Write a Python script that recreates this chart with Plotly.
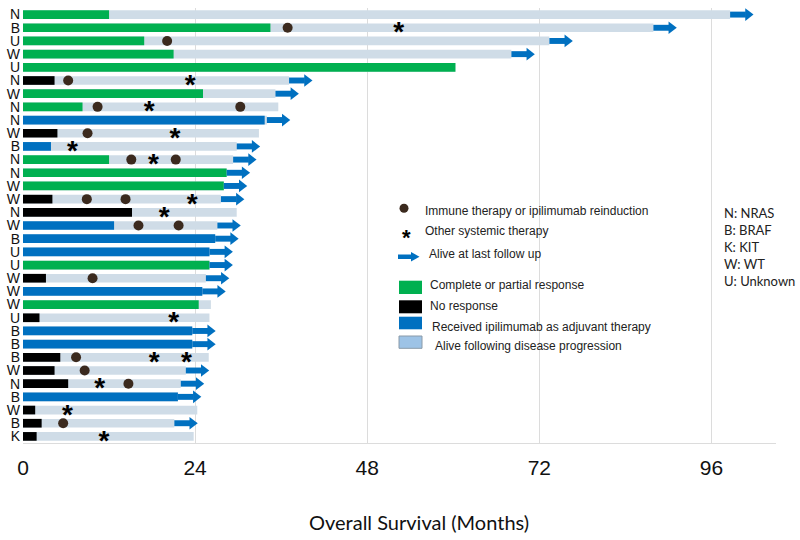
import plotly.graph_objects as go

# ---------------- data ----------------
genotype = ['N','B','U','W','U','N','W','N','N','W','B','N','N','W','W','N','W',
            'B','U','U','W','W','W','U','B','B','B','W','N','B','W','B','K']
# response type: G = complete/partial response, K = no response, A = adjuvant ipilimumab
response_type = ['G','G','G','G','G','K','G','G','A','K','A','G','G','G','K','K','A',
                 'A','A','G','K','A','G','K','A','A','K','K','K','A','K','K','K']
response_end = [12.0,34.5,16.9,21.0,60.3,4.4,25.1,8.3,33.7,4.8,3.9,12.0,28.4,28.0,4.1,15.2,12.7,
                26.8,26.0,26.0,3.2,25.0,24.5,2.3,23.6,23.6,5.2,4.4,6.3,21.6,1.7,2.6,1.9]
overall_survival = [98.6,87.9,73.4,68.1,60.3,37.1,35.2,35.6,34.0,32.9,29.8,29.3,28.4,28.0,27.6,29.8,27.1,
                    26.8,26.0,26.0,25.5,25.0,26.2,26.0,23.6,23.6,25.9,22.7,22.0,21.6,24.3,21.1,23.8]
alive = [1,1,1,1,0,1,1,0,1,0,1,1,1,1,1,0,1,
         1,1,1,1,1,0,0,1,1,0,1,1,1,0,1,0]
immune_events = [[],[36.9],[20.1],[],[],[6.3],[],[10.4,30.3],[],[9.0],[],[15.1,21.3],[],[],[8.9,14.3],[],[16.1,21.7],
                 [],[],[],[9.7],[],[],[],[],[],[7.4],[8.6],[14.7],[],[],[5.6],[]]
other_events = [[],[52.4],[],[],[],[23.3],[],[17.6],[],[21.2],[6.9],[18.2],[],[],[23.6],[19.7],[],
                [],[],[],[],[],[],[21.0],[],[],[18.3,22.8],[],[10.7],[],[6.2],[],[11.3]]
x_ticks = [0, 24, 48, 72, 96]

# ---------------- styling ----------------
GREEN = '#00b050'
BLACK = '#000000'
BLUE = '#0070c0'
GREY = '#cfdce7'
LEGBLUE = '#9dc3e6'
DOT = '#3b2a1e'
type_color = {'G': GREEN, 'K': BLACK, 'A': BLUE}

n = len(genotype)
rows = list(range(n))
BAR_W = 0.66
SHAFT = 2.2      # months
ARROW_W = 0.45

fig = go.Figure()

# grey progression bars
fig.add_trace(go.Bar(y=rows, x=overall_survival, base=[0]*n, orientation='h',
                     width=BAR_W, marker=dict(color=GREY, line_width=0), hoverinfo='skip'))
# response bars
for t in ['G', 'K', 'A']:
    idx = [i for i in rows if response_type[i] == t]
    fig.add_trace(go.Bar(y=idx, x=[response_end[i] for i in idx], base=[0]*len(idx),
                         orientation='h', width=BAR_W,
                         marker=dict(color=type_color[t], line_width=0), hoverinfo='skip'))
# arrows for alive
ai = [i for i in rows if alive[i]]
fig.add_trace(go.Bar(y=ai, x=[SHAFT]*len(ai), base=[overall_survival[i] for i in ai],
                     orientation='h', width=ARROW_W,
                     marker=dict(color=BLUE, line_width=0), hoverinfo='skip'))
fig.add_trace(go.Scatter(y=ai, x=[overall_survival[i] + SHAFT + 0.3 for i in ai], mode='markers',
                         marker=dict(symbol='triangle-right', size=11, color=BLUE, line_width=0),
                         hoverinfo='skip'))
# immune therapy dots
cx, cy = [], []
for i in rows:
    for v in immune_events[i]:
        cx.append(v); cy.append(i)
fig.add_trace(go.Scatter(x=cx, y=cy, mode='markers',
                         marker=dict(symbol='circle', size=10, color=DOT, line_width=0),
                         hoverinfo='skip'))
# other systemic therapy asterisks
sx, sy = [], []
for i in rows:
    for v in other_events[i]:
        sx.append(v); sy.append(i + 0.5)
fig.add_trace(go.Scatter(x=sx, y=sy, mode='text', text=['<b>*</b>']*len(sx),
                         textposition='middle center',
                         textfont=dict(family='Liberation Sans', size=28, color='black'),
                         hoverinfo='skip'))

# ---------------- layout ----------------
L, R, T, B = 23, 776, 8, 443
W, H = 800, 540

def px(x):
    return (x - L) / (R - L)

def py(y):
    return (B - y) / (B - T)

fig.update_layout(
    width=W, height=H, barmode='overlay', showlegend=False,
    plot_bgcolor='white', paper_bgcolor='white',
    margin=dict(l=L, r=W - R, t=T, b=H - B, autoexpand=False),
    xaxis=dict(range=[0, 105], tickvals=x_ticks, ticktext=[str(v) for v in x_ticks],
               showgrid=True, gridcolor='#dcdcdc', gridwidth=1, zeroline=False,
               showline=True, linecolor='#dcdcdc', linewidth=1, ticks='',
               ticklabelstandoff=6, automargin=False,
               tickfont=dict(family='Liberation Sans', size=21, color='#111')),
    yaxis=dict(range=[n - 0.5, -0.5], tickvals=rows, ticktext=genotype,
               showgrid=False, zeroline=False, showline=False, ticks='',
               ticklabelstandoff=2, automargin=False,
               tickfont=dict(family='Liberation Sans', size=14, color='#111')),
)

ann = []
shapes = []
# axis title
ann.append(dict(x=px(419), y=py(522), xref='paper', yref='paper', text='Overall Survival (Months)',
                showarrow=False, xanchor='center', yanchor='middle',
                font=dict(family='Lato', size=20, color='#111')))

# legend: symbols
shapes.append(dict(type='circle', xref='paper', yref='paper',
                   x0=px(399.5), x1=px(408.5), y0=py(212.8), y1=py(203.8),
                   fillcolor=DOT, line_width=0))
ann.append(dict(x=px(406.5), y=py(237), xref='paper', yref='paper', text='<b>*</b>', showarrow=False,
                xanchor='center', yanchor='middle',
                font=dict(family='Liberation Sans', size=22, color='black')))
shapes.append(dict(type='rect', xref='paper', yref='paper',
                   x0=px(398), x1=px(412), y0=py(254.5), y1=py(259), fillcolor=BLUE, line_width=0))
shapes.append(dict(type='path', xref='paper', yref='paper',
                   path=f'M {px(411)} {py(252)} L {px(419.5)} {py(256.7)} L {px(411)} {py(261.4)} Z',
                   fillcolor=BLUE, line_width=0))
box_specs = [(280.7, 294, GREEN, None), (300.3, 313.3, BLACK, None),
             (316.7, 329.3, BLUE, None), (336, 348.3, LEGBLUE, '#8a9aa8')]
for y0, y1, col, lc in box_specs:
    shapes.append(dict(type='rect', xref='paper', yref='paper',
                       x0=px(399), x1=px(422), y0=py(y1), y1=py(y0), fillcolor=col,
                       line=dict(width=1 if lc else 0, color=lc or col)))

leg_texts = [('Immune therapy or ipilimumab reinduction', 422.7, 210.7),
             ('Other systemic therapy', 422.7, 230.7),
             ('Alive at last follow up', 426.7, 254.3),
             ('Complete or partial response', 428.3, 285.0),
             ('No response', 428.3, 305.7),
             ('Received ipilimumab as adjuvant therapy', 430.0, 327.0),
             ('Alive following disease progression', 433.3, 345.7)]
for txt, x, y in leg_texts:
    ann.append(dict(x=px(x), y=py(y), xref='paper', yref='paper', text=txt, showarrow=False,
                    xanchor='left', yanchor='middle',
                    font=dict(family='Liberation Sans', size=12, color='#222')))

gene_texts = ['N: NRAS', 'B: BRAF', 'K: KIT', 'W: WT', 'U: Unknown']
for k, txt in enumerate(gene_texts):
    ann.append(dict(x=px(721.5), y=py(212.7 + 17 * k), xref='paper', yref='paper', text=txt,
                    showarrow=False, xanchor='left', yanchor='middle',
                    font=dict(family='Lato', size=13, color='#222')))

fig.update_layout(annotations=ann, shapes=shapes)
fig.write_html('out.html', config={'displayModeBar': False},
               post_script="document.body.style.margin='0';document.body.style.padding='0';")
